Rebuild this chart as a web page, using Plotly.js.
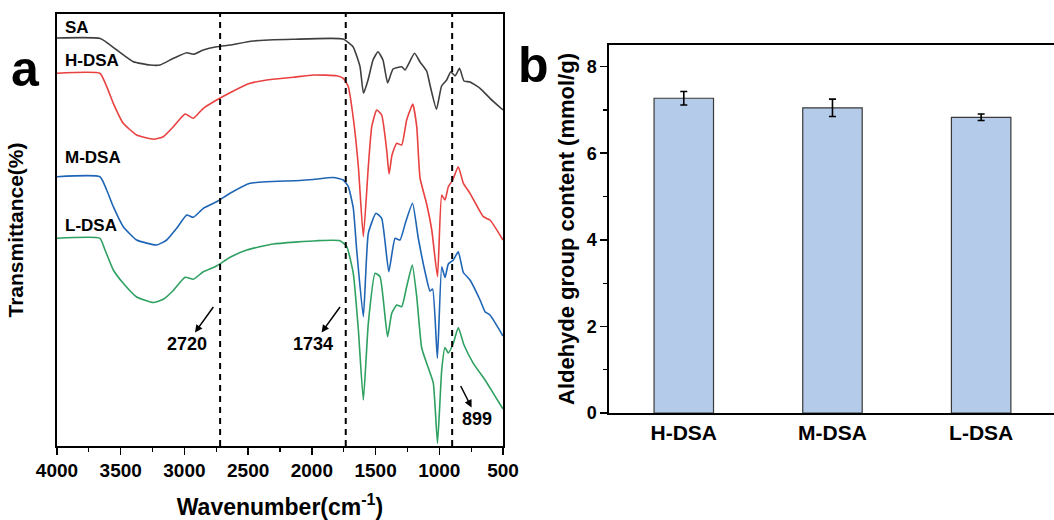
<!DOCTYPE html>
<html>
<head>
<meta charset="utf-8">
<script src="https://cdn.plot.ly/plotly-3.0.1.min.js"></script>
<style>
  html, body { margin: 0; padding: 0; background: #ffffff; }
  #chart { width: 1054px; height: 520px; }
</style>
</head>
<body>
<div id="chart"></div>
<script>
// ---------- Panel a: FTIR spectra (wavenumber in cm-1, offset transmittance in a.u.) ----------
const wnSA = [4000,3660,3531,3401,3270,3192,3087,2982,2930,2852,2747,2642,2462,2148,1755,1677,1622,1595,1559,1520,1481,1442,1405,1363,1295,1269,1194,1151,1099,1073,1022,982,942,910,876,841,806,759,680,602,500];
const tSA  = [408,407.5,396,384.3,381,381,387.7,393.3,391.7,396,399.3,401,405,406.7,407,399.3,379.3,352.7,366,386,394.3,386,363,377,379.3,376,392.7,384,375,361,336.7,360,366,374.3,370,377.7,365,364,357.7,347.7,336];

const wnH = [4000,3663,3610,3558,3480,3375,3244,3166,3087,2995,2930,2852,2747,2642,2485,2354,2146,1989,1805,1753,1714,1675,1635,1596,1557,1530,1491,1452,1413,1394,1371,1334,1295,1256,1208,1177,1151,1099,1059,1014,981,955,929,895,851,811,759,654,602,500];
const tH  = [372.7,372.7,359.3,342.7,322.7,311,306.7,309.3,319.3,332,327.7,337.7,346,353.3,362.7,366,368.7,371,370.3,367.7,359.3,328,279.3,209.3,279.3,319.3,336,331,296,272,291,302.7,301,326,342,319.3,268,242,216,169.3,251,246,259.3,266,279.3,262.7,252.7,229.3,226,206];

const wnM = [4000,3663,3610,3558,3480,3375,3218,3139,3061,2982,2930,2852,2747,2642,2485,2354,2093,1989,1832,1753,1714,1675,1648,1596,1557,1497,1452,1396,1347,1308,1265,1210,1165,1108,1073,1052,1015,981,955,929,890,851,811,759,680,641,602,500];
const tM  = [269.3,269.3,256,239.3,219.3,206,201,206,217.7,231,228.7,237.7,244.3,252.7,262.7,264.3,265.5,266.5,268.5,266,259.3,238,196,129.3,212.7,232.7,227.7,174.3,207.7,206,223.5,242.7,208,172,155,157,87.7,179.3,168.5,182,186,194.3,173.5,166,146,134.3,131,110];

const wnL = [4000,3663,3623,3558,3480,3375,3244,3166,3087,2995,2930,2852,2747,2642,2511,2302,1962,1779,1726,1675,1635,1596,1557,1504,1465,1406,1373,1334,1295,1256,1212,1177,1138,1086,1047,1014,981,955,929,890,851,806,733,641,576,500];
const tL  = [207.7,207.7,196,176,162.7,149,143.5,146.7,155.5,168.7,166.7,174.3,180,188.7,196,202,205.3,205.3,199.3,172.7,116,46,122.7,172.7,169.3,109.3,132.7,141,139.3,159.3,181,149.3,98,78,63,2.7,76,98.5,93,102.7,118.5,101,82.7,66,52.7,37];

const seriesNames  = ['SA','H-DSA','M-DSA','L-DSA'];
const markedBands  = [2720, 1734, 899];

// ---------- Panel b: aldehyde group content ----------
const samples   = ['H-DSA','M-DSA','L-DSA'];
const aldehyde  = [7.27, 7.05, 6.83];
const aldehydeErr = [0.155, 0.2, 0.075];

const FONT = 'Liberation Sans, Arial, Helvetica, sans-serif';
const colors = ['#3f3f3f', '#e8413f', '#1f65b5', '#2ea161'];

const specs = [[wnSA,tSA],[wnH,tH],[wnM,tM],[wnL,tL]];
const traces = specs.map((s, i) => ({
  type: 'scatter', mode: 'lines', x: s[0], y: s[1], name: seriesNames[i],
  line: {color: colors[i], width: 1.6, shape: 'spline', smoothing: 0.45},
  xaxis: 'x', yaxis: 'y', hoverinfo: 'skip', showlegend: false
}));

traces.push({
  type: 'bar', x: samples, y: aldehyde, width: 0.4,
  marker: {color: '#b4cbe9', line: {color: '#3a3a3a', width: 1.2}},
  error_y: {type: 'data', array: aldehydeErr, visible: true, color: '#000000', thickness: 1.6, width: 3.5},
  xaxis: 'x2', yaxis: 'y2', showlegend: false
});

const shapes = markedBands.map(w => ({
  type: 'line', xref: 'x', yref: 'y domain', x0: w, x1: w, y0: 0, y1: 1,
  line: {color: '#000000', width: 2, dash: '6px,5px'}
}));

// series labels (positions chosen in data space)
const labelPos = [[3955, 419], [3955, 386], [3955, 289], [3955, 221]];
const annotations = seriesNames.map((n, i) => ({
  xref: 'x', yref: 'y', x: labelPos[i][0], y: labelPos[i][1], text: '<b>' + n + '</b>',
  showarrow: false, xanchor: 'left', yanchor: 'middle',
  font: {family: FONT, size: 17, color: '#000000'}
}));

// band labels with arrows pointing toward the label (arrow tail in data space)
const arrows = [
  {tail: [2773, 139], label: '2720', lp: [2982, 102]},
  {tail: [1779, 139], label: '1734', lp: [1989, 102]},
  {tail: [832, 60],   label: '899',  lp: [701, 27]}
];
arrows.forEach(a => {
  annotations.push({
    xref: 'x', yref: 'y', axref: 'x', ayref: 'y',
    x: a.tail[0], y: a.tail[1], ax: a.lp[0], ay: a.lp[1],
    text: '<b>' + a.label + '</b>', showarrow: true, arrowside: 'start',
    arrowhead: 2, startarrowhead: 2, arrowsize: 1, startarrowsize: 1, arrowwidth: 1.5, arrowcolor: '#000000',
    font: {family: FONT, size: 18, color: '#000000'}
  });
});

// panel letters
annotations.push({xref: 'paper', yref: 'paper', x: 25/1054, y: 1 - 69/520, text: '<b>a</b>',
  showarrow: false, xanchor: 'center', yanchor: 'middle', font: {family: FONT, size: 50, color: '#000'}});
annotations.push({xref: 'paper', yref: 'paper', x: 533/1054, y: 1 - 65/520, text: '<b>b</b>',
  showarrow: false, xanchor: 'center', yanchor: 'middle', font: {family: FONT, size: 50, color: '#000'}});

const layout = {
  width: 1054, height: 520,
  margin: {l: 0, r: 0, t: 0, b: 0},
  paper_bgcolor: '#ffffff', plot_bgcolor: '#ffffff',
  font: {family: FONT, color: '#000000'},
  showlegend: false,
  xaxis: {
    domain: [57/1054, 503/1054], range: [4000, 500], anchor: 'y',
    showgrid: false, zeroline: false, showline: true, linecolor: '#000', linewidth: 1.6, mirror: true,
    ticks: 'outside', ticklen: 7, tickwidth: 1.5, tickcolor: '#000', dtick: 500, tick0: 500,
    minor: {ticks: 'outside', ticklen: 4, tickwidth: 1.2, tickcolor: '#000', dtick: 250},
    tickfont: {family: FONT, size: 19, color: '#000', weight: 'bold'},
    title: {text: '<b>Wavenumber(cm<sup>-1</sup>)</b>', font: {family: FONT, size: 23, color: '#000'}, standoff: 18}
  },
  yaxis: {
    domain: [74/520, 506/520], range: [0, 432], anchor: 'x',
    showgrid: false, zeroline: false, showline: true, linecolor: '#000', linewidth: 1.6, mirror: true,
    ticks: '', showticklabels: false,
    title: {text: '<b>Transmittance(%)</b>', font: {family: FONT, size: 21, color: '#000'}, standoff: 26}
  },
  xaxis2: {
    domain: [609/1054, 1], range: [-0.503, 2.49], anchor: 'y2', type: 'category',
    showgrid: false, zeroline: false, showline: true, linecolor: '#000', linewidth: 1.6, mirror: true,
    ticks: '', tickfont: {family: FONT, size: 21, color: '#000', weight: 'bold'}
  },
  yaxis2: {
    domain: [107/520, 475/520], range: [0, 8.5], anchor: 'x2',
    showgrid: false, zeroline: false, showline: true, linecolor: '#000', linewidth: 1.6,
    ticks: 'outside', ticklen: 7, tickwidth: 1.5, tickcolor: '#000', dtick: 2, tick0: 0,
    minor: {ticks: 'outside', ticklen: 4, tickwidth: 1.2, tickcolor: '#000', dtick: 1},
    tickfont: {family: FONT, size: 18, color: '#000', weight: 'bold'},
    title: {text: '<b>Aldehyde group content (mmol/g)</b>', font: {family: FONT, size: 22, color: '#000'}, standoff: 6}
  },
  shapes: shapes,
  annotations: annotations
};

Plotly.newPlot('chart', traces, layout, {displayModeBar: false, staticPlot: true});
</script>
</body>
</html>
